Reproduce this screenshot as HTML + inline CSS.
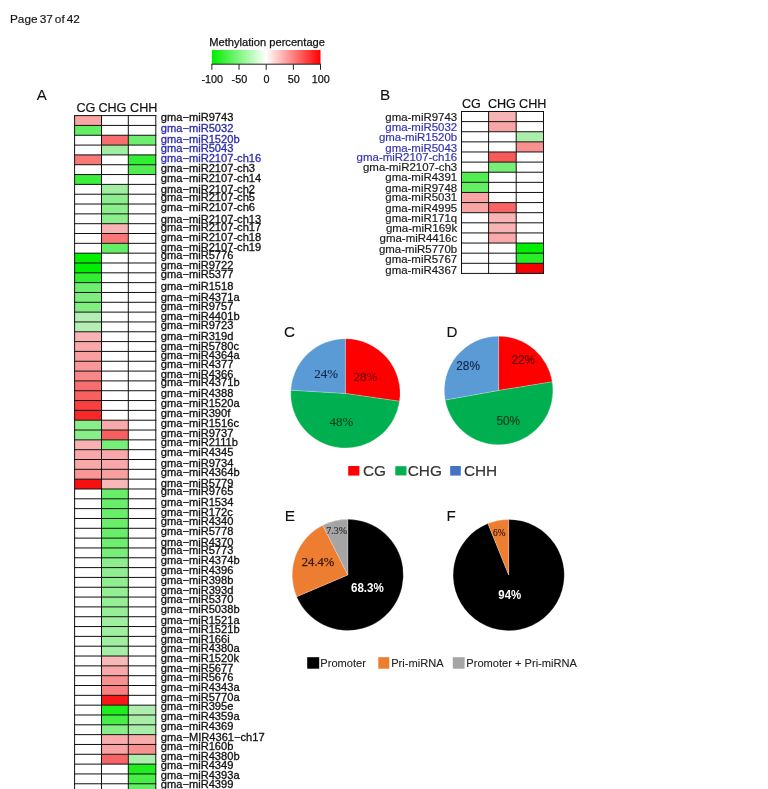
<!DOCTYPE html>
<html><head><meta charset="utf-8"><style>
html,body{margin:0;padding:0;background:#fff;}
svg{display:block;will-change:transform;}
text{font-family:"Liberation Sans",sans-serif;}
.sf{font-family:"Liberation Serif",serif;}
</style></head><body>
<svg width="768" height="789" viewBox="0 0 768 789">
<rect x="0" y="0" width="768" height="789" fill="#fff"/>
<rect x="74.60" y="115.60" width="26.90" height="9.83" fill="#f8a5a5"/>
<rect x="74.60" y="125.43" width="26.90" height="9.83" fill="#64ee64"/>
<rect x="101.50" y="135.25" width="26.80" height="9.83" fill="#f86e6e"/>
<rect x="128.30" y="135.25" width="27.50" height="9.83" fill="#6eee6e"/>
<rect x="101.50" y="145.08" width="26.80" height="9.83" fill="#a0eea0"/>
<rect x="74.60" y="154.90" width="26.90" height="9.83" fill="#f87878"/>
<rect x="128.30" y="154.90" width="27.50" height="9.83" fill="#32ee32"/>
<rect x="128.30" y="164.73" width="27.50" height="9.83" fill="#50ee50"/>
<rect x="74.60" y="174.56" width="26.90" height="9.83" fill="#3cee3c"/>
<rect x="101.50" y="184.38" width="26.80" height="9.83" fill="#a0eea0"/>
<rect x="101.50" y="194.21" width="26.80" height="9.83" fill="#8cee8c"/>
<rect x="101.50" y="204.03" width="26.80" height="9.83" fill="#8cee8c"/>
<rect x="101.50" y="213.86" width="26.80" height="9.83" fill="#8cee8c"/>
<rect x="101.50" y="223.69" width="26.80" height="9.83" fill="#f8b4b4"/>
<rect x="101.50" y="233.51" width="26.80" height="9.83" fill="#f87878"/>
<rect x="101.50" y="243.34" width="26.80" height="9.83" fill="#64ee64"/>
<rect x="74.60" y="253.16" width="26.90" height="9.83" fill="#00ee00"/>
<rect x="74.60" y="262.99" width="26.90" height="9.83" fill="#00ee00"/>
<rect x="74.60" y="272.82" width="26.90" height="9.83" fill="#32ee32"/>
<rect x="74.60" y="282.64" width="26.90" height="9.83" fill="#6eee6e"/>
<rect x="74.60" y="292.47" width="26.90" height="9.83" fill="#7dee7d"/>
<rect x="74.60" y="302.29" width="26.90" height="9.83" fill="#82ee82"/>
<rect x="74.60" y="312.12" width="26.90" height="9.83" fill="#b4eeb4"/>
<rect x="74.60" y="321.95" width="26.90" height="9.83" fill="#b4eeb4"/>
<rect x="74.60" y="331.77" width="26.90" height="9.83" fill="#f8b4b4"/>
<rect x="74.60" y="341.60" width="26.90" height="9.83" fill="#f8a8a8"/>
<rect x="74.60" y="351.42" width="26.90" height="9.83" fill="#f8a0a0"/>
<rect x="74.60" y="361.25" width="26.90" height="9.83" fill="#f89898"/>
<rect x="74.60" y="371.08" width="26.90" height="9.83" fill="#f88888"/>
<rect x="74.60" y="380.90" width="26.90" height="9.83" fill="#f86e6e"/>
<rect x="74.60" y="390.73" width="26.90" height="9.83" fill="#f86060"/>
<rect x="74.60" y="400.55" width="26.90" height="9.83" fill="#f84040"/>
<rect x="74.60" y="410.38" width="26.90" height="9.83" fill="#f82828"/>
<rect x="74.60" y="420.21" width="26.90" height="9.83" fill="#88ee88"/>
<rect x="101.50" y="420.21" width="26.80" height="9.83" fill="#f8aaaa"/>
<rect x="74.60" y="430.03" width="26.90" height="9.83" fill="#88ee88"/>
<rect x="101.50" y="430.03" width="26.80" height="9.83" fill="#f86060"/>
<rect x="74.60" y="439.86" width="26.90" height="9.83" fill="#f8b0b0"/>
<rect x="101.50" y="439.86" width="26.80" height="9.83" fill="#78ee78"/>
<rect x="74.60" y="449.68" width="26.90" height="9.83" fill="#f8a8a8"/>
<rect x="101.50" y="449.68" width="26.80" height="9.83" fill="#f8a8a8"/>
<rect x="74.60" y="459.51" width="26.90" height="9.83" fill="#f8a8a8"/>
<rect x="101.50" y="459.51" width="26.80" height="9.83" fill="#f8a8a8"/>
<rect x="74.60" y="469.34" width="26.90" height="9.83" fill="#f89696"/>
<rect x="101.50" y="469.34" width="26.80" height="9.83" fill="#f8a0a0"/>
<rect x="74.60" y="479.16" width="26.90" height="9.83" fill="#f81010"/>
<rect x="101.50" y="479.16" width="26.80" height="9.83" fill="#f8b8b8"/>
<rect x="101.50" y="488.99" width="26.80" height="9.83" fill="#68ee68"/>
<rect x="101.50" y="498.81" width="26.80" height="9.83" fill="#68ee68"/>
<rect x="101.50" y="508.64" width="26.80" height="9.83" fill="#68ee68"/>
<rect x="101.50" y="518.47" width="26.80" height="9.83" fill="#68ee68"/>
<rect x="101.50" y="528.29" width="26.80" height="9.83" fill="#68ee68"/>
<rect x="101.50" y="538.12" width="26.80" height="9.83" fill="#6eee6e"/>
<rect x="101.50" y="547.94" width="26.80" height="9.83" fill="#78ee78"/>
<rect x="101.50" y="557.77" width="26.80" height="9.83" fill="#8cee8c"/>
<rect x="101.50" y="567.60" width="26.80" height="9.83" fill="#90ee90"/>
<rect x="101.50" y="577.42" width="26.80" height="9.83" fill="#90ee90"/>
<rect x="101.50" y="587.25" width="26.80" height="9.83" fill="#94ee94"/>
<rect x="101.50" y="597.07" width="26.80" height="9.83" fill="#96ee96"/>
<rect x="101.50" y="606.90" width="26.80" height="9.83" fill="#96ee96"/>
<rect x="101.50" y="616.73" width="26.80" height="9.83" fill="#a0eea0"/>
<rect x="101.50" y="626.55" width="26.80" height="9.83" fill="#a0eea0"/>
<rect x="101.50" y="636.38" width="26.80" height="9.83" fill="#a0eea0"/>
<rect x="101.50" y="646.20" width="26.80" height="9.83" fill="#a5eea5"/>
<rect x="101.50" y="656.03" width="26.80" height="9.83" fill="#f8b8b8"/>
<rect x="101.50" y="665.86" width="26.80" height="9.83" fill="#f8a8a8"/>
<rect x="101.50" y="675.68" width="26.80" height="9.83" fill="#f89090"/>
<rect x="101.50" y="685.51" width="26.80" height="9.83" fill="#f88080"/>
<rect x="101.50" y="695.33" width="26.80" height="9.83" fill="#f81818"/>
<rect x="101.50" y="705.16" width="26.80" height="9.83" fill="#1eee1e"/>
<rect x="128.30" y="705.16" width="27.50" height="9.83" fill="#b0eeb0"/>
<rect x="101.50" y="714.99" width="26.80" height="9.83" fill="#46ee46"/>
<rect x="128.30" y="714.99" width="27.50" height="9.83" fill="#a8eea8"/>
<rect x="101.50" y="724.81" width="26.80" height="9.83" fill="#88ee88"/>
<rect x="128.30" y="724.81" width="27.50" height="9.83" fill="#a8eea8"/>
<rect x="101.50" y="734.64" width="26.80" height="9.83" fill="#f8acac"/>
<rect x="128.30" y="734.64" width="27.50" height="9.83" fill="#f8acac"/>
<rect x="101.50" y="744.46" width="26.80" height="9.83" fill="#f8a4a4"/>
<rect x="128.30" y="744.46" width="27.50" height="9.83" fill="#f89090"/>
<rect x="101.50" y="754.29" width="26.80" height="9.83" fill="#f86464"/>
<rect x="128.30" y="754.29" width="27.50" height="9.83" fill="#aceeac"/>
<rect x="128.30" y="764.12" width="27.50" height="9.83" fill="#1eee1e"/>
<rect x="128.30" y="773.94" width="27.50" height="9.83" fill="#46ee46"/>
<rect x="128.30" y="783.77" width="27.50" height="9.83" fill="#64ee64"/>
<line x1="74.10" y1="115.60" x2="156.30" y2="115.60" stroke="#111" stroke-width="1.0"/>
<line x1="74.10" y1="125.43" x2="156.30" y2="125.43" stroke="#111" stroke-width="1.0"/>
<line x1="74.10" y1="135.25" x2="156.30" y2="135.25" stroke="#111" stroke-width="1.0"/>
<line x1="74.10" y1="145.08" x2="156.30" y2="145.08" stroke="#111" stroke-width="1.0"/>
<line x1="74.10" y1="154.90" x2="156.30" y2="154.90" stroke="#111" stroke-width="1.0"/>
<line x1="74.10" y1="164.73" x2="156.30" y2="164.73" stroke="#111" stroke-width="1.0"/>
<line x1="74.10" y1="174.56" x2="156.30" y2="174.56" stroke="#111" stroke-width="1.0"/>
<line x1="74.10" y1="184.38" x2="156.30" y2="184.38" stroke="#111" stroke-width="1.0"/>
<line x1="74.10" y1="194.21" x2="156.30" y2="194.21" stroke="#111" stroke-width="1.0"/>
<line x1="74.10" y1="204.03" x2="156.30" y2="204.03" stroke="#111" stroke-width="1.0"/>
<line x1="74.10" y1="213.86" x2="156.30" y2="213.86" stroke="#111" stroke-width="1.0"/>
<line x1="74.10" y1="223.69" x2="156.30" y2="223.69" stroke="#111" stroke-width="1.0"/>
<line x1="74.10" y1="233.51" x2="156.30" y2="233.51" stroke="#111" stroke-width="1.0"/>
<line x1="74.10" y1="243.34" x2="156.30" y2="243.34" stroke="#111" stroke-width="1.0"/>
<line x1="74.10" y1="253.16" x2="156.30" y2="253.16" stroke="#111" stroke-width="1.0"/>
<line x1="74.10" y1="262.99" x2="156.30" y2="262.99" stroke="#111" stroke-width="1.0"/>
<line x1="74.10" y1="272.82" x2="156.30" y2="272.82" stroke="#111" stroke-width="1.0"/>
<line x1="74.10" y1="282.64" x2="156.30" y2="282.64" stroke="#111" stroke-width="1.0"/>
<line x1="74.10" y1="292.47" x2="156.30" y2="292.47" stroke="#111" stroke-width="1.0"/>
<line x1="74.10" y1="302.29" x2="156.30" y2="302.29" stroke="#111" stroke-width="1.0"/>
<line x1="74.10" y1="312.12" x2="156.30" y2="312.12" stroke="#111" stroke-width="1.0"/>
<line x1="74.10" y1="321.95" x2="156.30" y2="321.95" stroke="#111" stroke-width="1.0"/>
<line x1="74.10" y1="331.77" x2="156.30" y2="331.77" stroke="#111" stroke-width="1.0"/>
<line x1="74.10" y1="341.60" x2="156.30" y2="341.60" stroke="#111" stroke-width="1.0"/>
<line x1="74.10" y1="351.42" x2="156.30" y2="351.42" stroke="#111" stroke-width="1.0"/>
<line x1="74.10" y1="361.25" x2="156.30" y2="361.25" stroke="#111" stroke-width="1.0"/>
<line x1="74.10" y1="371.08" x2="156.30" y2="371.08" stroke="#111" stroke-width="1.0"/>
<line x1="74.10" y1="380.90" x2="156.30" y2="380.90" stroke="#111" stroke-width="1.0"/>
<line x1="74.10" y1="390.73" x2="156.30" y2="390.73" stroke="#111" stroke-width="1.0"/>
<line x1="74.10" y1="400.55" x2="156.30" y2="400.55" stroke="#111" stroke-width="1.0"/>
<line x1="74.10" y1="410.38" x2="156.30" y2="410.38" stroke="#111" stroke-width="1.0"/>
<line x1="74.10" y1="420.21" x2="156.30" y2="420.21" stroke="#111" stroke-width="1.0"/>
<line x1="74.10" y1="430.03" x2="156.30" y2="430.03" stroke="#111" stroke-width="1.0"/>
<line x1="74.10" y1="439.86" x2="156.30" y2="439.86" stroke="#111" stroke-width="1.0"/>
<line x1="74.10" y1="449.68" x2="156.30" y2="449.68" stroke="#111" stroke-width="1.0"/>
<line x1="74.10" y1="459.51" x2="156.30" y2="459.51" stroke="#111" stroke-width="1.0"/>
<line x1="74.10" y1="469.34" x2="156.30" y2="469.34" stroke="#111" stroke-width="1.0"/>
<line x1="74.10" y1="479.16" x2="156.30" y2="479.16" stroke="#111" stroke-width="1.0"/>
<line x1="74.10" y1="488.99" x2="156.30" y2="488.99" stroke="#111" stroke-width="1.0"/>
<line x1="74.10" y1="498.81" x2="156.30" y2="498.81" stroke="#111" stroke-width="1.0"/>
<line x1="74.10" y1="508.64" x2="156.30" y2="508.64" stroke="#111" stroke-width="1.0"/>
<line x1="74.10" y1="518.47" x2="156.30" y2="518.47" stroke="#111" stroke-width="1.0"/>
<line x1="74.10" y1="528.29" x2="156.30" y2="528.29" stroke="#111" stroke-width="1.0"/>
<line x1="74.10" y1="538.12" x2="156.30" y2="538.12" stroke="#111" stroke-width="1.0"/>
<line x1="74.10" y1="547.94" x2="156.30" y2="547.94" stroke="#111" stroke-width="1.0"/>
<line x1="74.10" y1="557.77" x2="156.30" y2="557.77" stroke="#111" stroke-width="1.0"/>
<line x1="74.10" y1="567.60" x2="156.30" y2="567.60" stroke="#111" stroke-width="1.0"/>
<line x1="74.10" y1="577.42" x2="156.30" y2="577.42" stroke="#111" stroke-width="1.0"/>
<line x1="74.10" y1="587.25" x2="156.30" y2="587.25" stroke="#111" stroke-width="1.0"/>
<line x1="74.10" y1="597.07" x2="156.30" y2="597.07" stroke="#111" stroke-width="1.0"/>
<line x1="74.10" y1="606.90" x2="156.30" y2="606.90" stroke="#111" stroke-width="1.0"/>
<line x1="74.10" y1="616.73" x2="156.30" y2="616.73" stroke="#111" stroke-width="1.0"/>
<line x1="74.10" y1="626.55" x2="156.30" y2="626.55" stroke="#111" stroke-width="1.0"/>
<line x1="74.10" y1="636.38" x2="156.30" y2="636.38" stroke="#111" stroke-width="1.0"/>
<line x1="74.10" y1="646.20" x2="156.30" y2="646.20" stroke="#111" stroke-width="1.0"/>
<line x1="74.10" y1="656.03" x2="156.30" y2="656.03" stroke="#111" stroke-width="1.0"/>
<line x1="74.10" y1="665.86" x2="156.30" y2="665.86" stroke="#111" stroke-width="1.0"/>
<line x1="74.10" y1="675.68" x2="156.30" y2="675.68" stroke="#111" stroke-width="1.0"/>
<line x1="74.10" y1="685.51" x2="156.30" y2="685.51" stroke="#111" stroke-width="1.0"/>
<line x1="74.10" y1="695.33" x2="156.30" y2="695.33" stroke="#111" stroke-width="1.0"/>
<line x1="74.10" y1="705.16" x2="156.30" y2="705.16" stroke="#111" stroke-width="1.0"/>
<line x1="74.10" y1="714.99" x2="156.30" y2="714.99" stroke="#111" stroke-width="1.0"/>
<line x1="74.10" y1="724.81" x2="156.30" y2="724.81" stroke="#111" stroke-width="1.0"/>
<line x1="74.10" y1="734.64" x2="156.30" y2="734.64" stroke="#111" stroke-width="1.0"/>
<line x1="74.10" y1="744.46" x2="156.30" y2="744.46" stroke="#111" stroke-width="1.0"/>
<line x1="74.10" y1="754.29" x2="156.30" y2="754.29" stroke="#111" stroke-width="1.0"/>
<line x1="74.10" y1="764.12" x2="156.30" y2="764.12" stroke="#111" stroke-width="1.0"/>
<line x1="74.10" y1="773.94" x2="156.30" y2="773.94" stroke="#111" stroke-width="1.0"/>
<line x1="74.10" y1="783.77" x2="156.30" y2="783.77" stroke="#111" stroke-width="1.0"/>
<line x1="74.10" y1="793.59" x2="156.30" y2="793.59" stroke="#111" stroke-width="1.0"/>
<line x1="74.60" y1="115.10" x2="74.60" y2="794.09" stroke="#111" stroke-width="1.0"/>
<line x1="101.50" y1="115.10" x2="101.50" y2="794.09" stroke="#111" stroke-width="1.0"/>
<line x1="128.30" y1="115.10" x2="128.30" y2="794.09" stroke="#111" stroke-width="1.0"/>
<line x1="155.80" y1="115.10" x2="155.80" y2="794.09" stroke="#111" stroke-width="1.0"/>
<text transform="translate(160.8,120.95) scale(1.03,1)" font-size="10.8" fill="#111" stroke="#111" stroke-width="0.3">gma−miR9743</text>
<text transform="translate(160.8,132.35) scale(1.03,1)" font-size="10.8" fill="#2a2ab0" stroke="#2a2ab0" stroke-width="0.3">gma−miR5032</text>
<text transform="translate(160.8,142.55) scale(1.03,1)" font-size="10.8" fill="#2a2ab0" stroke="#2a2ab0" stroke-width="0.3">gma−miR1520b</text>
<text transform="translate(160.8,152.45) scale(1.03,1)" font-size="10.8" fill="#2a2ab0" stroke="#2a2ab0" stroke-width="0.3">gma−miR5043</text>
<text transform="translate(160.8,161.55) scale(1.03,1)" font-size="10.8" fill="#2a2ab0" stroke="#2a2ab0" stroke-width="0.3">gma−miR2107-ch16</text>
<text transform="translate(160.8,171.75) scale(1.03,1)" font-size="10.8" fill="#111" stroke="#111" stroke-width="0.3">gma−miR2107-ch3</text>
<text transform="translate(160.8,181.85) scale(1.03,1)" font-size="10.8" fill="#111" stroke="#111" stroke-width="0.3">gma−miR2107-ch14</text>
<text transform="translate(160.8,192.65) scale(1.03,1)" font-size="10.8" fill="#111" stroke="#111" stroke-width="0.3">gma−miR2107-ch2</text>
<text transform="translate(160.8,201.45) scale(1.03,1)" font-size="10.8" fill="#111" stroke="#111" stroke-width="0.3">gma−miR2107-ch5</text>
<text transform="translate(160.8,211.45) scale(1.03,1)" font-size="10.8" fill="#111" stroke="#111" stroke-width="0.3">gma−miR2107-ch6</text>
<text transform="translate(160.8,222.55) scale(1.03,1)" font-size="10.8" fill="#111" stroke="#111" stroke-width="0.3">gma−miR2107-ch13</text>
<text transform="translate(160.8,230.55) scale(1.03,1)" font-size="10.8" fill="#111" stroke="#111" stroke-width="0.3">gma−miR2107-ch17</text>
<text transform="translate(160.8,240.65) scale(1.03,1)" font-size="10.8" fill="#111" stroke="#111" stroke-width="0.3">gma−miR2107-ch18</text>
<text transform="translate(160.8,250.85) scale(1.03,1)" font-size="10.8" fill="#111" stroke="#111" stroke-width="0.3">gma−miR2107-ch19</text>
<text transform="translate(160.8,259.35) scale(1.03,1)" font-size="10.8" fill="#111" stroke="#111" stroke-width="0.3">gma−miR5776</text>
<text transform="translate(160.8,269.45) scale(1.03,1)" font-size="10.8" fill="#111" stroke="#111" stroke-width="0.3">gma−miR9722</text>
<text transform="translate(160.8,278.35) scale(1.03,1)" font-size="10.8" fill="#111" stroke="#111" stroke-width="0.3">gma−miR5377</text>
<text transform="translate(160.8,290.15) scale(1.03,1)" font-size="10.8" fill="#111" stroke="#111" stroke-width="0.3">gma−miR1518</text>
<text transform="translate(160.8,300.85) scale(1.03,1)" font-size="10.8" fill="#111" stroke="#111" stroke-width="0.3">gma−miR4371a</text>
<text transform="translate(160.8,309.65) scale(1.03,1)" font-size="10.8" fill="#111" stroke="#111" stroke-width="0.3">gma−miR9757</text>
<text transform="translate(160.8,319.55) scale(1.03,1)" font-size="10.8" fill="#111" stroke="#111" stroke-width="0.3">gma−miR4401b</text>
<text transform="translate(160.8,329.45) scale(1.03,1)" font-size="10.8" fill="#111" stroke="#111" stroke-width="0.3">gma−miR9723</text>
<text transform="translate(160.8,339.85) scale(1.03,1)" font-size="10.8" fill="#111" stroke="#111" stroke-width="0.3">gma−miR319d</text>
<text transform="translate(160.8,349.75) scale(1.03,1)" font-size="10.8" fill="#111" stroke="#111" stroke-width="0.3">gma−miR5780c</text>
<text transform="translate(160.8,358.95) scale(1.03,1)" font-size="10.8" fill="#111" stroke="#111" stroke-width="0.3">gma−miR4364a</text>
<text transform="translate(160.8,367.85) scale(1.03,1)" font-size="10.8" fill="#111" stroke="#111" stroke-width="0.3">gma−miR4377</text>
<text transform="translate(160.8,377.65) scale(1.03,1)" font-size="10.8" fill="#111" stroke="#111" stroke-width="0.3">gma−miR4366</text>
<text transform="translate(160.8,386.15) scale(1.03,1)" font-size="10.8" fill="#111" stroke="#111" stroke-width="0.3">gma−miR4371b</text>
<text transform="translate(160.8,396.95) scale(1.03,1)" font-size="10.8" fill="#111" stroke="#111" stroke-width="0.3">gma−miR4388</text>
<text transform="translate(160.8,407.15) scale(1.03,1)" font-size="10.8" fill="#111" stroke="#111" stroke-width="0.3">gma−miR1520a</text>
<text transform="translate(160.8,416.65) scale(1.03,1)" font-size="10.8" fill="#111" stroke="#111" stroke-width="0.3">gma−miR390f</text>
<text transform="translate(160.8,426.75) scale(1.03,1)" font-size="10.8" fill="#111" stroke="#111" stroke-width="0.3">gma−miR1516c</text>
<text transform="translate(160.8,436.95) scale(1.03,1)" font-size="10.8" fill="#111" stroke="#111" stroke-width="0.3">gma−miR9737</text>
<text transform="translate(160.8,446.45) scale(1.03,1)" font-size="10.8" fill="#111" stroke="#111" stroke-width="0.3">gma−miR2111b</text>
<text transform="translate(160.8,456.05) scale(1.03,1)" font-size="10.8" fill="#111" stroke="#111" stroke-width="0.3">gma−miR4345</text>
<text transform="translate(160.8,467.45) scale(1.03,1)" font-size="10.8" fill="#111" stroke="#111" stroke-width="0.3">gma−miR9734</text>
<text transform="translate(160.8,476.35) scale(1.03,1)" font-size="10.8" fill="#111" stroke="#111" stroke-width="0.3">gma−miR4364b</text>
<text transform="translate(160.8,486.85) scale(1.03,1)" font-size="10.8" fill="#111" stroke="#111" stroke-width="0.3">gma−miR5779</text>
<text transform="translate(160.8,495.35) scale(1.03,1)" font-size="10.8" fill="#111" stroke="#111" stroke-width="0.3">gma−miR9765</text>
<text transform="translate(160.8,505.95) scale(1.03,1)" font-size="10.8" fill="#111" stroke="#111" stroke-width="0.3">gma−miR1534</text>
<text transform="translate(160.8,516.05) scale(1.03,1)" font-size="10.8" fill="#111" stroke="#111" stroke-width="0.3">gma−miR172c</text>
<text transform="translate(160.8,525.45) scale(1.03,1)" font-size="10.8" fill="#111" stroke="#111" stroke-width="0.3">gma−miR4340</text>
<text transform="translate(160.8,534.95) scale(1.03,1)" font-size="10.8" fill="#111" stroke="#111" stroke-width="0.3">gma−miR5778</text>
<text transform="translate(160.8,545.85) scale(1.03,1)" font-size="10.8" fill="#111" stroke="#111" stroke-width="0.3">gma−miR4370</text>
<text transform="translate(160.8,554.45) scale(1.03,1)" font-size="10.8" fill="#111" stroke="#111" stroke-width="0.3">gma−miR5773</text>
<text transform="translate(160.8,564.35) scale(1.03,1)" font-size="10.8" fill="#111" stroke="#111" stroke-width="0.3">gma−miR4374b</text>
<text transform="translate(160.8,574.45) scale(1.03,1)" font-size="10.8" fill="#111" stroke="#111" stroke-width="0.3">gma−miR4396</text>
<text transform="translate(160.8,584.25) scale(1.03,1)" font-size="10.8" fill="#111" stroke="#111" stroke-width="0.3">gma−miR398b</text>
<text transform="translate(160.8,594.45) scale(1.03,1)" font-size="10.8" fill="#111" stroke="#111" stroke-width="0.3">gma−miR393d</text>
<text transform="translate(160.8,603.25) scale(1.03,1)" font-size="10.8" fill="#111" stroke="#111" stroke-width="0.3">gma−miR5370</text>
<text transform="translate(160.8,613.45) scale(1.03,1)" font-size="10.8" fill="#111" stroke="#111" stroke-width="0.3">gma−miR5038b</text>
<text transform="translate(160.8,623.75) scale(1.03,1)" font-size="10.8" fill="#111" stroke="#111" stroke-width="0.3">gma−miR1521a</text>
<text transform="translate(160.8,632.85) scale(1.03,1)" font-size="10.8" fill="#111" stroke="#111" stroke-width="0.3">gma−miR1521b</text>
<text transform="translate(160.8,642.65) scale(1.03,1)" font-size="10.8" fill="#111" stroke="#111" stroke-width="0.3">gma−miR166i</text>
<text transform="translate(160.8,651.85) scale(1.03,1)" font-size="10.8" fill="#111" stroke="#111" stroke-width="0.3">gma−miR4380a</text>
<text transform="translate(160.8,662.25) scale(1.03,1)" font-size="10.8" fill="#111" stroke="#111" stroke-width="0.3">gma−miR1520k</text>
<text transform="translate(160.8,671.75) scale(1.03,1)" font-size="10.8" fill="#111" stroke="#111" stroke-width="0.3">gma−miR5677</text>
<text transform="translate(160.8,680.65) scale(1.03,1)" font-size="10.8" fill="#111" stroke="#111" stroke-width="0.3">gma−miR5676</text>
<text transform="translate(160.8,690.85) scale(1.03,1)" font-size="10.8" fill="#111" stroke="#111" stroke-width="0.3">gma−miR4343a</text>
<text transform="translate(160.8,700.95) scale(1.03,1)" font-size="10.8" fill="#111" stroke="#111" stroke-width="0.3">gma−miR5770a</text>
<text transform="translate(160.8,710.15) scale(1.03,1)" font-size="10.8" fill="#111" stroke="#111" stroke-width="0.3">gma−miR395e</text>
<text transform="translate(160.8,720.35) scale(1.03,1)" font-size="10.8" fill="#111" stroke="#111" stroke-width="0.3">gma−miR4359a</text>
<text transform="translate(160.8,730.15) scale(1.03,1)" font-size="10.8" fill="#111" stroke="#111" stroke-width="0.3">gma−miR4369</text>
<text transform="translate(160.8,741.25) scale(1.03,1)" font-size="10.8" fill="#111" stroke="#111" stroke-width="0.3">gma−MIR4361−ch17</text>
<text transform="translate(160.8,750.15) scale(1.03,1)" font-size="10.8" fill="#111" stroke="#111" stroke-width="0.3">gma−miR160b</text>
<text transform="translate(160.8,760.05) scale(1.03,1)" font-size="10.8" fill="#111" stroke="#111" stroke-width="0.3">gma−miR4380b</text>
<text transform="translate(160.8,769.45) scale(1.03,1)" font-size="10.8" fill="#111" stroke="#111" stroke-width="0.3">gma−miR4349</text>
<text transform="translate(160.8,779.35) scale(1.03,1)" font-size="10.8" fill="#111" stroke="#111" stroke-width="0.3">gma−miR4393a</text>
<text transform="translate(160.8,788.25) scale(1.03,1)" font-size="10.8" fill="#111" stroke="#111" stroke-width="0.3">gma−miR4399</text>
<text x="76.4" y="112" font-size="12.6" fill="#111" stroke="#111" stroke-width="0.2">CG</text>
<text x="98.4" y="112" font-size="12.6" fill="#111" stroke="#111" stroke-width="0.2">CHG</text>
<text x="130.1" y="112" font-size="12.6" fill="#111" stroke="#111" stroke-width="0.2">CHH</text>
<rect x="488.60" y="111.50" width="27.60" height="10.12" fill="#f8b4b4"/>
<rect x="488.60" y="121.62" width="27.60" height="10.12" fill="#f8a5a5"/>
<rect x="516.20" y="131.74" width="27.30" height="10.12" fill="#aaeeaa"/>
<rect x="516.20" y="141.86" width="27.30" height="10.12" fill="#f89090"/>
<rect x="488.60" y="151.98" width="27.60" height="10.12" fill="#f85a5a"/>
<rect x="488.60" y="162.10" width="27.60" height="10.12" fill="#78ee78"/>
<rect x="461.50" y="172.22" width="27.10" height="10.12" fill="#50ee50"/>
<rect x="461.50" y="182.34" width="27.10" height="10.12" fill="#64ee64"/>
<rect x="461.50" y="192.46" width="27.10" height="10.12" fill="#f8a5a5"/>
<rect x="461.50" y="202.58" width="27.10" height="10.12" fill="#f8a5a5"/>
<rect x="488.60" y="202.58" width="27.60" height="10.12" fill="#f86464"/>
<rect x="488.60" y="212.70" width="27.60" height="10.12" fill="#f8b4b4"/>
<rect x="488.60" y="222.82" width="27.60" height="10.12" fill="#f8b4b4"/>
<rect x="488.60" y="232.94" width="27.60" height="10.12" fill="#f8aaaa"/>
<rect x="516.20" y="243.06" width="27.30" height="10.12" fill="#00ee00"/>
<rect x="516.20" y="253.18" width="27.30" height="10.12" fill="#28ee28"/>
<rect x="516.20" y="263.30" width="27.30" height="10.12" fill="#f80000"/>
<line x1="461.00" y1="111.50" x2="544.00" y2="111.50" stroke="#111" stroke-width="1.0"/>
<line x1="461.00" y1="121.62" x2="544.00" y2="121.62" stroke="#111" stroke-width="1.0"/>
<line x1="461.00" y1="131.74" x2="544.00" y2="131.74" stroke="#111" stroke-width="1.0"/>
<line x1="461.00" y1="141.86" x2="544.00" y2="141.86" stroke="#111" stroke-width="1.0"/>
<line x1="461.00" y1="151.98" x2="544.00" y2="151.98" stroke="#111" stroke-width="1.0"/>
<line x1="461.00" y1="162.10" x2="544.00" y2="162.10" stroke="#111" stroke-width="1.0"/>
<line x1="461.00" y1="172.22" x2="544.00" y2="172.22" stroke="#111" stroke-width="1.0"/>
<line x1="461.00" y1="182.34" x2="544.00" y2="182.34" stroke="#111" stroke-width="1.0"/>
<line x1="461.00" y1="192.46" x2="544.00" y2="192.46" stroke="#111" stroke-width="1.0"/>
<line x1="461.00" y1="202.58" x2="544.00" y2="202.58" stroke="#111" stroke-width="1.0"/>
<line x1="461.00" y1="212.70" x2="544.00" y2="212.70" stroke="#111" stroke-width="1.0"/>
<line x1="461.00" y1="222.82" x2="544.00" y2="222.82" stroke="#111" stroke-width="1.0"/>
<line x1="461.00" y1="232.94" x2="544.00" y2="232.94" stroke="#111" stroke-width="1.0"/>
<line x1="461.00" y1="243.06" x2="544.00" y2="243.06" stroke="#111" stroke-width="1.0"/>
<line x1="461.00" y1="253.18" x2="544.00" y2="253.18" stroke="#111" stroke-width="1.0"/>
<line x1="461.00" y1="263.30" x2="544.00" y2="263.30" stroke="#111" stroke-width="1.0"/>
<line x1="461.00" y1="273.42" x2="544.00" y2="273.42" stroke="#111" stroke-width="1.0"/>
<line x1="461.50" y1="111.00" x2="461.50" y2="273.92" stroke="#111" stroke-width="1.0"/>
<line x1="488.60" y1="111.00" x2="488.60" y2="273.92" stroke="#111" stroke-width="1.0"/>
<line x1="516.20" y1="111.00" x2="516.20" y2="273.92" stroke="#111" stroke-width="1.0"/>
<line x1="543.50" y1="111.00" x2="543.50" y2="273.92" stroke="#111" stroke-width="1.0"/>
<text transform="translate(457.2,120.50) scale(1.062,1)" font-size="10.8" text-anchor="end" fill="#1a1a1a" stroke="#1a1a1a" stroke-width="0.18">gma-miR9743</text>
<text transform="translate(457.2,130.60) scale(1.062,1)" font-size="10.8" text-anchor="end" fill="#3333b4" stroke="#3333b4" stroke-width="0.18">gma-miR5032</text>
<text transform="translate(457.2,141.40) scale(1.062,1)" font-size="10.8" text-anchor="end" fill="#3333b4" stroke="#3333b4" stroke-width="0.18">gma-miR1520b</text>
<text transform="translate(457.2,151.50) scale(1.062,1)" font-size="10.8" text-anchor="end" fill="#3333b4" stroke="#3333b4" stroke-width="0.18">gma-miR5043</text>
<text transform="translate(457.2,160.50) scale(1.062,1)" font-size="10.8" text-anchor="end" fill="#3333b4" stroke="#3333b4" stroke-width="0.18">gma-miR2107-ch16</text>
<text transform="translate(457.2,170.60) scale(1.062,1)" font-size="10.8" text-anchor="end" fill="#1a1a1a" stroke="#1a1a1a" stroke-width="0.18">gma-miR2107-ch3</text>
<text transform="translate(457.2,181.40) scale(1.062,1)" font-size="10.8" text-anchor="end" fill="#1a1a1a" stroke="#1a1a1a" stroke-width="0.18">gma-miR4391</text>
<text transform="translate(457.2,191.50) scale(1.062,1)" font-size="10.8" text-anchor="end" fill="#1a1a1a" stroke="#1a1a1a" stroke-width="0.18">gma-miR9748</text>
<text transform="translate(457.2,200.80) scale(1.062,1)" font-size="10.8" text-anchor="end" fill="#1a1a1a" stroke="#1a1a1a" stroke-width="0.18">gma-miR5031</text>
<text transform="translate(457.2,211.50) scale(1.062,1)" font-size="10.8" text-anchor="end" fill="#1a1a1a" stroke="#1a1a1a" stroke-width="0.18">gma-miR4995</text>
<text transform="translate(457.2,221.70) scale(1.062,1)" font-size="10.8" text-anchor="end" fill="#1a1a1a" stroke="#1a1a1a" stroke-width="0.18">gma-miR171q</text>
<text transform="translate(457.2,231.50) scale(1.062,1)" font-size="10.8" text-anchor="end" fill="#1a1a1a" stroke="#1a1a1a" stroke-width="0.18">gma-miR169k</text>
<text transform="translate(457.2,241.70) scale(1.062,1)" font-size="10.8" text-anchor="end" fill="#1a1a1a" stroke="#1a1a1a" stroke-width="0.18">gma-miR4416c</text>
<text transform="translate(457.2,252.50) scale(1.062,1)" font-size="10.8" text-anchor="end" fill="#1a1a1a" stroke="#1a1a1a" stroke-width="0.18">gma-miR5770b</text>
<text transform="translate(457.2,263.30) scale(1.062,1)" font-size="10.8" text-anchor="end" fill="#1a1a1a" stroke="#1a1a1a" stroke-width="0.18">gma-miR5767</text>
<text transform="translate(457.2,274.40) scale(1.062,1)" font-size="10.8" text-anchor="end" fill="#1a1a1a" stroke="#1a1a1a" stroke-width="0.18">gma-miR4367</text>
<text x="462" y="108.4" font-size="12.6" fill="#111" stroke="#111" stroke-width="0.2">CG</text>
<text x="487.9" y="108.4" font-size="12.6" fill="#111" stroke="#111" stroke-width="0.2">CHG</text>
<text x="519.1" y="108.4" font-size="12.6" fill="#111" stroke="#111" stroke-width="0.2">CHH</text>
<text x="36.8" y="99.7" font-size="15" fill="#111" stroke="#111" stroke-width="0.1">A</text>
<text x="380" y="99.9" font-size="15.3" fill="#111" stroke="#111" stroke-width="0.1">B</text>
<text x="284.1" y="336.8" font-size="15.2" fill="#111" stroke="#111" stroke-width="0.1">C</text>
<text x="446.6" y="336.8" font-size="15.2" fill="#111" stroke="#111" stroke-width="0.1">D</text>
<text x="284.7" y="521" font-size="15.5" fill="#111" stroke="#111" stroke-width="0.1">E</text>
<text x="446.6" y="520.8" font-size="15.2" fill="#111" stroke="#111" stroke-width="0.1">F</text>
<text x="10" y="22.6" font-size="11.8" fill="#111" stroke="#111" stroke-width="0.15" word-spacing="-1.2">Page 37 of 42</text>
<defs><linearGradient id="cb" x1="0" x2="1" y1="0" y2="0"><stop offset="0" stop-color="#00ee00"/><stop offset="0.5" stop-color="#ffffff"/><stop offset="1" stop-color="#ff0000"/></linearGradient></defs>
<text x="209.2" y="46" font-size="11.15" fill="#111" stroke="#111" stroke-width="0.25">Methylation percentage</text>
<rect x="211.9" y="50" width="108.6" height="14.2" fill="url(#cb)"/>
<line x1="211.4" y1="64.2" x2="321" y2="64.2" stroke="#222" stroke-width="1"/>
<line x1="211.90" y1="64.2" x2="211.90" y2="69.8" stroke="#222" stroke-width="1"/>
<line x1="239.05" y1="64.2" x2="239.05" y2="69.8" stroke="#222" stroke-width="1"/>
<line x1="266.20" y1="64.2" x2="266.20" y2="69.8" stroke="#222" stroke-width="1"/>
<line x1="293.35" y1="64.2" x2="293.35" y2="69.8" stroke="#222" stroke-width="1"/>
<line x1="320.50" y1="64.2" x2="320.50" y2="69.8" stroke="#222" stroke-width="1"/>
<text x="212.2" y="82.6" font-size="10.8" fill="#111" stroke="#111" stroke-width="0.25" text-anchor="middle">-100</text>
<text x="239.35" y="82.6" font-size="10.8" fill="#111" stroke="#111" stroke-width="0.25" text-anchor="middle">-50</text>
<text x="266.5" y="82.6" font-size="10.8" fill="#111" stroke="#111" stroke-width="0.25" text-anchor="middle">0</text>
<text x="293.65" y="82.6" font-size="10.8" fill="#111" stroke="#111" stroke-width="0.25" text-anchor="middle">50</text>
<text x="320.8" y="82.6" font-size="10.8" fill="#111" stroke="#111" stroke-width="0.25" text-anchor="middle">100</text>
<path d="M345.40,393.40 L345.40,338.70 A54.7,54.7 0 0 1 399.53,401.28 Z" fill="#ff0000" stroke="#ffffff" stroke-width="0.5" stroke-opacity="0.45"/>
<path d="M345.40,393.40 L399.53,401.28 A54.7,54.7 0 0 1 290.80,390.14 Z" fill="#00b050" stroke="#ffffff" stroke-width="0.5" stroke-opacity="0.45"/>
<path d="M345.40,393.40 L290.80,390.14 A54.7,54.7 0 0 1 345.40,338.70 Z" fill="#5b9bd5" stroke="#ffffff" stroke-width="0.5" stroke-opacity="0.45"/>
<path d="M498.60,390.45 L498.60,336.15 A54.3,54.3 0 0 1 552.22,381.85 Z" fill="#ff0000" stroke="#ffffff" stroke-width="0.5" stroke-opacity="0.45"/>
<path d="M498.60,390.45 L552.22,381.85 A54.3,54.3 0 0 1 445.16,400.05 Z" fill="#00b050" stroke="#ffffff" stroke-width="0.5" stroke-opacity="0.45"/>
<path d="M498.60,390.45 L445.16,400.05 A54.3,54.3 0 0 1 498.60,336.15 Z" fill="#5b9bd5" stroke="#ffffff" stroke-width="0.5" stroke-opacity="0.45"/>
<text x="314.2" y="377.8" font-size="13" fill="#12244a" stroke="#12244a" stroke-width="0.1" class="sf">24%</text>
<text x="353.4" y="381" font-size="13.1" fill="#5a0000" stroke="#5a0000" stroke-width="0.1" class="sf">28%</text>
<text x="329.5" y="426" font-size="13" fill="#0a3d1e" stroke="#0a3d1e" stroke-width="0.1" class="sf">48%</text>
<text transform="translate(456.3,369.9) scale(0.96,1)" font-size="12.3" fill="#12244a" stroke="#12244a" stroke-width="0.15">28%</text>
<text transform="translate(511.4,364.1) scale(0.96,1)" font-size="12.3" fill="#5a0000" stroke="#5a0000" stroke-width="0.15">22%</text>
<text transform="translate(496.4,425) scale(0.96,1)" font-size="12.3" fill="#0a3d1e" stroke="#0a3d1e" stroke-width="0.15">50%</text>
<rect x="348.2" y="466" width="11.2" height="9.6" fill="#ff0000"/>
<text transform="translate(362.9,475.5) scale(1.06,1)" font-size="14.5" fill="#333" stroke="#333" stroke-width="0.15">CG</text>
<rect x="395.3" y="466.2" width="11.2" height="9.2" fill="#00b050"/>
<text transform="translate(407.7,475.5) scale(1.06,1)" font-size="14.5" fill="#333" stroke="#333" stroke-width="0.15">CHG</text>
<rect x="450.2" y="466" width="10.6" height="9.6" fill="#4472c4"/>
<text transform="translate(463.9,475.5) scale(1.06,1)" font-size="14.5" fill="#333" stroke="#333" stroke-width="0.15">CHH</text>
<path d="M347.80,574.90 L347.80,519.30 A55.6,55.6 0 1 1 296.64,596.66 Z" fill="#000000" stroke="#ffffff" stroke-width="0.5" stroke-opacity="0.45"/>
<path d="M347.80,574.90 L296.64,596.66 A55.6,55.6 0 0 1 322.75,525.27 Z" fill="#ed7d31" stroke="#ffffff" stroke-width="0.5" stroke-opacity="0.45"/>
<path d="M347.80,574.90 L322.75,525.27 A55.6,55.6 0 0 1 347.80,519.30 Z" fill="#a5a5a5" stroke="#ffffff" stroke-width="0.5" stroke-opacity="0.45"/>
<path d="M508.70,575.05 L508.70,519.45 A55.6,55.6 0 1 1 487.91,523.48 Z" fill="#000000" stroke="#ffffff" stroke-width="0.5" stroke-opacity="0.45"/>
<path d="M508.70,575.05 L487.91,523.48 A55.6,55.6 0 0 1 508.70,519.45 Z" fill="#ed7d31" stroke="#ffffff" stroke-width="0.5" stroke-opacity="0.45"/>
<text x="326.3" y="534.4" font-size="10" fill="#333" stroke="#333" stroke-width="0.2" class="sf">7.3%</text>
<text x="301.8" y="565.8" font-size="12.6" fill="#3a1a00" stroke="#3a1a00" stroke-width="0.25" class="sf">24.4%</text>
<text transform="translate(351,592.1) scale(0.89,1)" font-size="13" fill="#fff" font-weight="bold">68.3%</text>
<text x="493" y="535.6" font-size="9.3" fill="#3a1a00" stroke="#3a1a00" stroke-width="0.2" class="sf">6%</text>
<text transform="translate(498.3,599.2) scale(0.88,1)" font-size="13" fill="#fff" font-weight="bold">94%</text>
<rect x="307.2" y="657.2" width="12" height="11.5" fill="#000"/>
<text x="320.3" y="666.8" font-size="11.1" fill="#222" stroke="#222" stroke-width="0.1">Promoter</text>
<rect x="378.3" y="657.2" width="11" height="11.5" fill="#ed7d31"/>
<text x="391.2" y="666.8" font-size="11.1" fill="#222" stroke="#222" stroke-width="0.1">Pri-miRNA</text>
<rect x="452.8" y="657.2" width="11.8" height="11.5" fill="#a5a5a5"/>
<text x="466.3" y="666.8" font-size="11.1" fill="#222" stroke="#222" stroke-width="0.1">Promoter + Pri-miRNA</text>
</svg></body></html>
